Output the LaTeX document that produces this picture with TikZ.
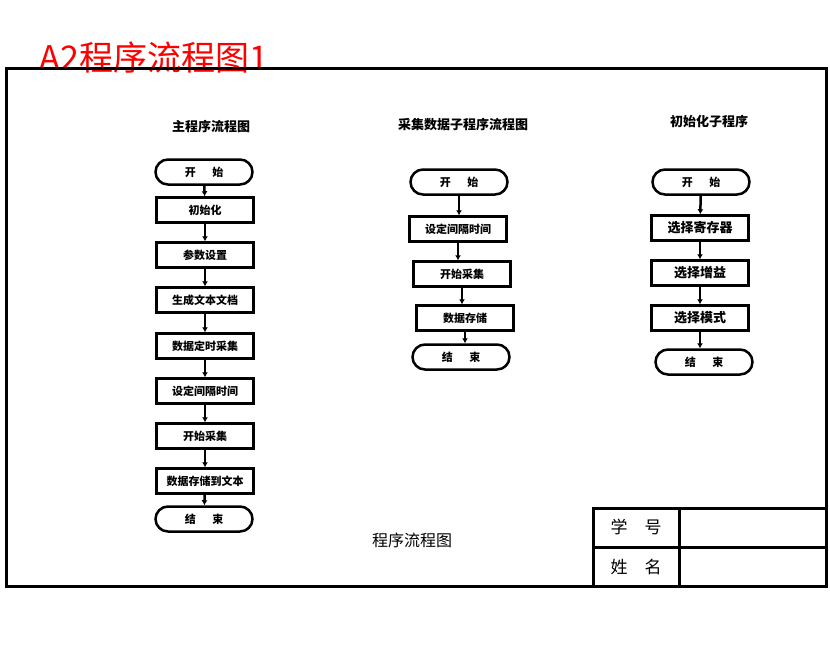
\documentclass[tikz,border=0pt]{standalone}
\usepackage{fontspec}
\newfontfamily\cjk{Noto Sans CJK SC}
\usetikzlibrary{arrows.meta,shapes.misc}
\begin{document}
\begin{tikzpicture}[x=1pt,y=-1pt,
  bx/.style={draw,line width=2.5pt,minimum width=97pt,minimum height=25pt,inner sep=0,font=\cjk\bfseries\fontsize{11}{11}\selectfont},
  tm/.style={bx,rounded rectangle},
  ar/.style={line width=2.5pt,-{Latex[length=5pt,width=6pt]}},
  tt/.style={font=\cjk\bfseries\fontsize{13}{13}\selectfont}]
\useasboundingbox (0,0) rectangle (830,654);
\node[text=red,font=\cjk\fontsize{34}{34}\selectfont,anchor=west] (title) at (36,58) {A2程序流程图1};
\draw[line width=3pt] (6,68) rectangle (826,586);
\draw[line width=3pt] (593,586) -- (593,508) -- (826,508) (593,547) -- (826,547) (679,508) -- (679,586);
\node[font=\cjk\fontsize{17}{17}\selectfont] (xh) at (636,527) {学\hspace{1em}号};
\node[font=\cjk\fontsize{17}{17}\selectfont] (xm) at (636,567) {姓\hspace{1em}名};
\node[font=\cjk\fontsize{16}{16}\selectfont] (cap) at (412,540) {程序流程图};
\node[tt] (t1) at (211,127) {主程序流程图};
\node[tt] (t2) at (463,125) {采集数据子程序流程图};
\node[tt] (t3) at (709,122) {初始化子程序};
% main
\node[tm] (a0) at (204,172) {开\hspace{1.5em}始};
\node[bx] (a1) at (205,210) {初始化};
\node[bx] (a2) at (205,255) {参数设置};
\node[bx] (a3) at (205,300) {生成文本文档};
\node[bx] (a4) at (205,346) {数据定时采集};
\node[bx] (a5) at (205,391) {设定间隔时间};
\node[bx] (a6) at (205,436) {开始采集};
\node[bx] (a7) at (205,481) {数据存储到文本};
\node[tm] (a8) at (204,519) {结\hspace{1.5em}束};
\foreach \i/\j in {a0/a1,a1/a2,a2/a3,a3/a4,a4/a5,a5/a6,a6/a7,a7/a8} \draw[ar] (\i) -- (\j);
% middle
\node[tm] (b0) at (459,182) {开\hspace{1.5em}始};
\node[bx] (b1) at (458,229) {设定间隔时间};
\node[bx] (b2) at (462,274) {开始采集};
\node[bx] (b3) at (465,318) {数据存储};
\node[tm] (b4) at (461,357) {结\hspace{1.5em}束};
\draw[ar] (b0.south) -- (b0.south|-b1.north);
\draw[ar] (b1.south) -- (b1.south|-b2.north);
\draw[ar] (b2.south) -- (b2.south|-b3.north);
\draw[ar] (b3.south) -- (b3.south|-b4.north);
% right
\node[tm] (c0) at (701,182) {开\hspace{1.5em}始};
\node[bx,font=\cjk\bfseries\fontsize{13}{13}\selectfont] (c1) at (700,228) {选择寄存器};
\node[bx,font=\cjk\bfseries\fontsize{13}{13}\selectfont] (c2) at (700,273) {选择增益};
\node[bx,font=\cjk\bfseries\fontsize{13}{13}\selectfont] (c3) at (700,318) {选择模式};
\node[tm] (c4) at (704,362) {结\hspace{1.5em}束};
\draw[ar] (c0) -- (c1);
\draw[ar] (c1) -- (c2);
\draw[ar] (c2) -- (c3);
\draw[ar] (c3.south) -- (c3.south|-c4.north);
\end{tikzpicture}
\end{document}
